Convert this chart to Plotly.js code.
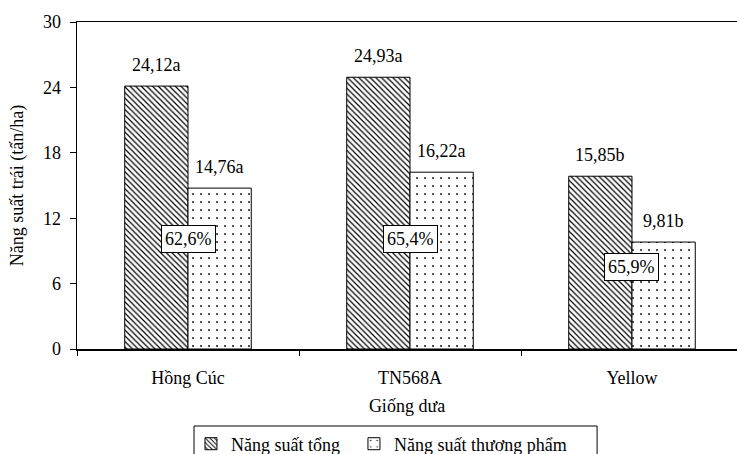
<!DOCTYPE html>
<html>
<head>
<meta charset="utf-8">
<script src="https://cdn.plot.ly/plotly-3.0.1.min.js"></script>
<style>html,body{margin:0;padding:0;background:#fff;}#chart{width:737px;height:454px;}</style>
</head>
<body>
<div id="chart"></div>
<script>
// Melon varieties and their yields (tấn/ha)
const varieties = ["Hồng Cúc", "TN568A", "Yellow"];
const totalYield = [24.12, 24.93, 15.85];
const totalLetters = ["a", "a", "b"];
const marketYield = [14.76, 16.22, 9.81];
const marketLetters = ["a", "a", "b"];
const ratioLabels = ["62,6%", "65,4%", "65,9%"];
const ratioLabelY = [10.1, 10.1, 7.5];
const seriesNames = ["Năng suất tổng", "Năng suất thương phẩm"];
const yTicks = [0, 6, 12, 18, 24, 30];

const serif = "'Liberation Serif', 'Times New Roman', serif";
const fs = 18;
const bargap = 0.43;
const barOffset = (1 - bargap) / 4;

const fmt = (v, letter) => v.toFixed(2).replace(".", ",") + letter;

const traces = [
  {
    type: "bar",
    // two no-break spaces widen the gap before the next legend entry
    name: seriesNames[0] + "\u00a0\u00a0",
    x: varieties,
    y: totalYield,
    marker: {
      color: "#ffffff",
      line: {color: "#000000", width: 1},
      pattern: {shape: "\\", fgcolor: "#000000", bgcolor: "#ffffff", size: 4, solidity: 0.3}
    },
    hoverinfo: "skip"
  },
  {
    type: "bar",
    name: seriesNames[1],
    x: varieties,
    y: marketYield,
    marker: {
      color: "#ffffff",
      line: {color: "#000000", width: 1},
      pattern: {shape: ".", fgcolor: "#000000", bgcolor: "#ffffff", size: 8, solidity: 0.04}
    },
    hoverinfo: "skip"
  }
];

const textFont = {family: serif, size: fs, color: "#000"};
const annotations = [];
varieties.forEach((v, i) => {
  annotations.push({
    x: i - barOffset, y: totalYield[i], xref: "x", yref: "y",
    text: fmt(totalYield[i], totalLetters[i]), showarrow: false,
    yanchor: "bottom", yshift: 9, font: textFont
  });
  annotations.push({
    x: i + barOffset, y: marketYield[i], xref: "x", yref: "y",
    text: fmt(marketYield[i], marketLetters[i]), showarrow: false,
    yanchor: "bottom", yshift: 9, font: textFont
  });
  annotations.push({
    x: i, y: ratioLabelY[i], xref: "x", yref: "y",
    text: ratioLabels[i], showarrow: false,
    bgcolor: "#ffffff", bordercolor: "#000000", borderwidth: 1, borderpad: 3,
    font: textFont
  });
});

// frame around the legend entries (open at the bottom edge of the page)
const legendFrame = {
  type: "rect", xref: "paper", yref: "paper",
  x0: 0.1773, x1: 0.788, y0: -0.40, y1: -0.2355,
  line: {color: "#000", width: 1}, fillcolor: "rgba(0,0,0,0)"
};

const layout = {
  width: 737,
  height: 454,
  margin: {l: 77, r: 0, t: 22, b: 105, autoexpand: false},
  paper_bgcolor: "#ffffff",
  plot_bgcolor: "#ffffff",
  font: textFont,
  barmode: "group",
  bargap: bargap,
  bargroupgap: 0,
  showlegend: true,
  legend: {
    orientation: "h",
    x: 0.1727, xanchor: "left",
    y: -0.234, yanchor: "top",
    borderwidth: 0,
    bgcolor: "rgba(0,0,0,0)",
    font: textFont,
    itemwidth: 30
  },
  shapes: [legendFrame],
  xaxis: {
    type: "category",
    range: [-0.5, 2.473],
    showline: true, linecolor: "#000", linewidth: 1.5,
    mirror: true,
    ticks: "outside", tickson: "boundaries", ticklen: 5, tickcolor: "#000",
    ticklabelstandoff: 12,
    showgrid: false, zeroline: false,
    tickfont: textFont,
    title: {text: "Giống dưa", font: textFont, standoff: 12}
  },
  yaxis: {
    range: [0, 30],
    tickvals: yTicks,
    ticktext: yTicks.map(String),
    showline: true, linecolor: "#000", linewidth: 1.5,
    ticks: "outside", ticklen: 6, tickcolor: "#000",
    ticklabelstandoff: 5,
    showgrid: false, zeroline: false,
    tickfont: {family: serif, size: 18, color: "#000"},
    title: {text: "Năng suất trái (tấn/ha)", font: textFont, standoff: 14}
  },
  annotations: annotations
};

Plotly.newPlot("chart", traces, layout, {displayModeBar: false, staticPlot: true});
</script>
</body>
</html>
